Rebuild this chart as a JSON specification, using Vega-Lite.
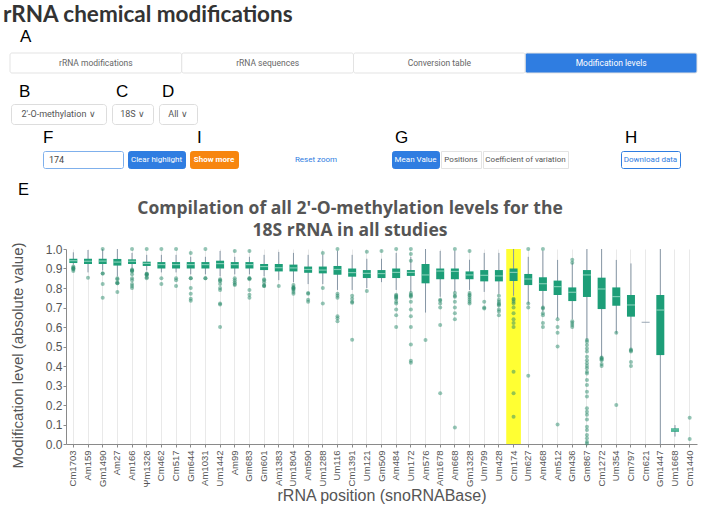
{
  "$schema": "https://vega.github.io/schema/vega-lite/v6.json",
  "background": "white",
  "padding": {"left": 3, "top": 4, "right": 0, "bottom": 0},
  "title": {"text": "rRNA chemical modifications", "anchor": "start", "fontSize": 22.5, "font": "Lato", "fontWeight": "bold", "color": "#333333", "offset": 1},
  "config": {
    "view": {"stroke": null},
    "axis": {"labelFont": "Liberation Sans", "titleFont": "Liberation Sans", "labelColor": "#555555", "titleColor": "#555555", "titleFontWeight": "normal", "domainColor": "#8a8a8a", "tickColor": "#8a8a8a"},
    "axisY": {"offset": -63, "grid": false, "tickCount": 10, "labelFontSize": 12, "titleFontSize": 15, "titlePadding": 20, "titleY": 106, "tickSize": 3, "labelPadding": 1},
    "axisX": {"labelAngle": -90, "labelFontSize": 9.5, "labelPadding": 3, "tickSize": 3, "grid": true, "gridColor": "#e9e9e9", "titleFontSize": 16, "titlePadding": 1}
  },
  "datasets": {
    "tabs": [
      {"tab": "rRNA modifications", "active": false},
      {"tab": "rRNA sequences", "active": false},
      {"tab": "Conversion table", "active": false},
      {"tab": "Modification levels", "active": true}
    ],
    "highlight": [{"cat": "Cm174", "from": 0, "to": 1}],
    "stats": [
      {"cat": "Cm1703", "lo": 0.92, "q1": 0.928, "med": 0.94, "q3": 0.95, "hi": 0.983},
      {"cat": "Am159", "lo": 0.88, "q1": 0.923, "med": 0.937, "q3": 0.95, "hi": 0.995},
      {"cat": "Gm1490", "lo": 0.89, "q1": 0.923, "med": 0.938, "q3": 0.95, "hi": 1.0},
      {"cat": "Am27", "lo": 0.86, "q1": 0.915, "med": 0.933, "q3": 0.949, "hi": 1.0},
      {"cat": "Am166", "lo": 0.9, "q1": 0.923, "med": 0.937, "q3": 0.947, "hi": 0.98},
      {"cat": "Ψm1326", "lo": 0.89, "q1": 0.913, "med": 0.926, "q3": 0.935, "hi": 0.97},
      {"cat": "Cm462", "lo": 0.88, "q1": 0.9, "med": 0.92, "q3": 0.933, "hi": 0.97},
      {"cat": "Cm517", "lo": 0.88, "q1": 0.9, "med": 0.92, "q3": 0.933, "hi": 0.97},
      {"cat": "Gm644", "lo": 0.87, "q1": 0.9, "med": 0.92, "q3": 0.933, "hi": 0.96},
      {"cat": "Am1031", "lo": 0.87, "q1": 0.9, "med": 0.92, "q3": 0.933, "hi": 0.96},
      {"cat": "Um1442", "lo": 0.86, "q1": 0.9, "med": 0.925, "q3": 0.94, "hi": 0.99},
      {"cat": "Am99", "lo": 0.87, "q1": 0.9, "med": 0.92, "q3": 0.933, "hi": 0.96},
      {"cat": "Gm683", "lo": 0.87, "q1": 0.9, "med": 0.92, "q3": 0.933, "hi": 0.96},
      {"cat": "Gm601", "lo": 0.86, "q1": 0.892, "med": 0.91, "q3": 0.923, "hi": 0.97},
      {"cat": "Am1383", "lo": 0.84, "q1": 0.885, "med": 0.904, "q3": 0.923, "hi": 0.985},
      {"cat": "Um1804", "lo": 0.83, "q1": 0.885, "med": 0.903, "q3": 0.92, "hi": 0.98},
      {"cat": "Am590", "lo": 0.82, "q1": 0.878, "med": 0.895, "q3": 0.91, "hi": 0.97},
      {"cat": "Um1288", "lo": 0.82, "q1": 0.875, "med": 0.892, "q3": 0.91, "hi": 0.97},
      {"cat": "Um116", "lo": 0.79, "q1": 0.868, "med": 0.895, "q3": 0.913, "hi": 0.99},
      {"cat": "Cm1391", "lo": 0.79, "q1": 0.858, "med": 0.879, "q3": 0.9, "hi": 0.97},
      {"cat": "Um121", "lo": 0.8, "q1": 0.851, "med": 0.875, "q3": 0.892, "hi": 0.95},
      {"cat": "Gm509", "lo": 0.83, "q1": 0.851, "med": 0.874, "q3": 0.892, "hi": 0.95},
      {"cat": "Am484", "lo": 0.79, "q1": 0.851, "med": 0.88, "q3": 0.9, "hi": 0.98},
      {"cat": "Um172", "lo": 0.78, "q1": 0.862, "med": 0.88, "q3": 0.892, "hi": 0.96},
      {"cat": "Am576", "lo": 0.674, "q1": 0.824, "med": 0.867, "q3": 0.923, "hi": 1.0},
      {"cat": "Am1678", "lo": 0.755, "q1": 0.845, "med": 0.887, "q3": 0.9, "hi": 0.99},
      {"cat": "Am668", "lo": 0.78, "q1": 0.845, "med": 0.885, "q3": 0.9, "hi": 0.99},
      {"cat": "Gm1328", "lo": 0.79, "q1": 0.845, "med": 0.867, "q3": 0.885, "hi": 0.945},
      {"cat": "Um799", "lo": 0.78, "q1": 0.834, "med": 0.865, "q3": 0.892, "hi": 0.98},
      {"cat": "Um428", "lo": 0.77, "q1": 0.834, "med": 0.862, "q3": 0.892, "hi": 0.98},
      {"cat": "Cm174", "lo": 0.76, "q1": 0.836, "med": 0.88, "q3": 0.9, "hi": 1.0},
      {"cat": "Um627", "lo": 0.72, "q1": 0.815, "med": 0.846, "q3": 0.872, "hi": 0.96},
      {"cat": "Am468", "lo": 0.68, "q1": 0.785, "med": 0.822, "q3": 0.855, "hi": 0.99},
      {"cat": "Am512", "lo": 0.645, "q1": 0.764, "med": 0.807, "q3": 0.838, "hi": 0.944},
      {"cat": "Gm436", "lo": 0.64, "q1": 0.733, "med": 0.778, "q3": 0.803, "hi": 0.93},
      {"cat": "Gm867", "lo": 0.533, "q1": 0.754, "med": 0.867, "q3": 0.892, "hi": 1.0},
      {"cat": "Cm1272", "lo": 0.444, "q1": 0.692, "med": 0.795, "q3": 0.853, "hi": 1.0},
      {"cat": "Um354", "lo": 0.567, "q1": 0.709, "med": 0.756, "q3": 0.803, "hi": 0.944},
      {"cat": "Cm797", "lo": 0.482, "q1": 0.653, "med": 0.713, "q3": 0.764, "hi": 0.926},
      {"cat": "Cm621", "lo": 0.624, "q1": 0.624, "med": 0.624, "q3": 0.624, "hi": 0.624},
      {"cat": "Gm1447", "lo": 0.0, "q1": 0.456, "med": 0.687, "q3": 0.764, "hi": 1.0},
      {"cat": "Um1668", "lo": 0.038, "q1": 0.063, "med": 0.072, "q3": 0.08, "hi": 0.097}
    ],
    "points": [
      {"cat": "Cm1703", "v": 0.905}, {"cat": "Cm1703", "v": 0.9}, {"cat": "Cm1703", "v": 0.9}, {"cat": "Cm1703", "v": 0.895}, {"cat": "Cm1703", "v": 0.887}, {"cat": "Cm1703", "v": 0.91},
      {"cat": "Am159", "v": 0.853},
      {"cat": "Gm1490", "v": 1.0}, {"cat": "Gm1490", "v": 0.875}, {"cat": "Gm1490", "v": 0.875}, {"cat": "Gm1490", "v": 0.82}, {"cat": "Gm1490", "v": 0.75},
      {"cat": "Am27", "v": 0.85}, {"cat": "Am27", "v": 0.845}, {"cat": "Am27", "v": 0.83}, {"cat": "Am27", "v": 0.825}, {"cat": "Am27", "v": 0.825}, {"cat": "Am27", "v": 0.78},
      {"cat": "Am166", "v": 1.0}, {"cat": "Am166", "v": 0.895}, {"cat": "Am166", "v": 0.89}, {"cat": "Am166", "v": 0.89}, {"cat": "Am166", "v": 0.885}, {"cat": "Am166", "v": 0.87}, {"cat": "Am166", "v": 0.85}, {"cat": "Am166", "v": 0.84}, {"cat": "Am166", "v": 0.82}, {"cat": "Am166", "v": 0.81}, {"cat": "Am166", "v": 0.8},
      {"cat": "Ψm1326", "v": 1.0}, {"cat": "Ψm1326", "v": 0.875}, {"cat": "Ψm1326", "v": 0.87}, {"cat": "Ψm1326", "v": 0.87}, {"cat": "Ψm1326", "v": 0.865}, {"cat": "Ψm1326", "v": 0.855}, {"cat": "Ψm1326", "v": 0.85},
      {"cat": "Cm462", "v": 1.0}, {"cat": "Cm462", "v": 0.85}, {"cat": "Cm462", "v": 0.82},
      {"cat": "Cm517", "v": 1.0}, {"cat": "Cm517", "v": 0.85}, {"cat": "Cm517", "v": 0.84}, {"cat": "Cm517", "v": 0.81},
      {"cat": "Gm644", "v": 0.98}, {"cat": "Gm644", "v": 0.85}, {"cat": "Gm644", "v": 0.85}, {"cat": "Gm644", "v": 0.8}, {"cat": "Gm644", "v": 0.77}, {"cat": "Gm644", "v": 0.745}, {"cat": "Gm644", "v": 0.735},
      {"cat": "Am1031", "v": 1.0}, {"cat": "Am1031", "v": 0.85}, {"cat": "Am1031", "v": 0.85},
      {"cat": "Um1442", "v": 0.845}, {"cat": "Um1442", "v": 0.84}, {"cat": "Um1442", "v": 0.835}, {"cat": "Um1442", "v": 0.82}, {"cat": "Um1442", "v": 0.8}, {"cat": "Um1442", "v": 0.79}, {"cat": "Um1442", "v": 0.72}, {"cat": "Um1442", "v": 0.715}, {"cat": "Um1442", "v": 0.6},
      {"cat": "Am99", "v": 0.99}, {"cat": "Am99", "v": 0.85}, {"cat": "Am99", "v": 0.84}, {"cat": "Am99", "v": 0.83}, {"cat": "Am99", "v": 0.82}, {"cat": "Am99", "v": 0.815},
      {"cat": "Gm683", "v": 0.99}, {"cat": "Gm683", "v": 0.85}, {"cat": "Gm683", "v": 0.85}, {"cat": "Gm683", "v": 0.845}, {"cat": "Gm683", "v": 0.79}, {"cat": "Gm683", "v": 0.765}, {"cat": "Gm683", "v": 0.75},
      {"cat": "Gm601", "v": 0.845}, {"cat": "Gm601", "v": 0.84}, {"cat": "Gm601", "v": 0.83}, {"cat": "Gm601", "v": 0.815}, {"cat": "Gm601", "v": 0.81}, {"cat": "Gm601", "v": 0.81},
      {"cat": "Am1383", "v": 0.81},
      {"cat": "Um1804", "v": 0.815}, {"cat": "Um1804", "v": 0.805}, {"cat": "Um1804", "v": 0.8}, {"cat": "Um1804", "v": 0.8}, {"cat": "Um1804", "v": 0.795}, {"cat": "Um1804", "v": 0.79}, {"cat": "Um1804", "v": 0.78}, {"cat": "Um1804", "v": 0.77},
      {"cat": "Am590", "v": 0.775}, {"cat": "Am590", "v": 0.77}, {"cat": "Am590", "v": 0.74}, {"cat": "Am590", "v": 0.73},
      {"cat": "Um1288", "v": 0.98}, {"cat": "Um1288", "v": 0.8}, {"cat": "Um1288", "v": 0.72},
      {"cat": "Um116", "v": 1.0}, {"cat": "Um116", "v": 0.77}, {"cat": "Um116", "v": 0.76}, {"cat": "Um116", "v": 0.75}, {"cat": "Um116", "v": 0.655}, {"cat": "Um116", "v": 0.645}, {"cat": "Um116", "v": 0.63},
      {"cat": "Cm1391", "v": 0.76}, {"cat": "Cm1391", "v": 0.745}, {"cat": "Cm1391", "v": 0.73}, {"cat": "Cm1391", "v": 0.725}, {"cat": "Cm1391", "v": 0.535},
      {"cat": "Um121", "v": 0.986}, {"cat": "Um121", "v": 0.785},
      {"cat": "Gm509", "v": 0.99},
      {"cat": "Am484", "v": 1.0}, {"cat": "Am484", "v": 0.765}, {"cat": "Am484", "v": 0.76}, {"cat": "Am484", "v": 0.755}, {"cat": "Am484", "v": 0.75}, {"cat": "Am484", "v": 0.745}, {"cat": "Am484", "v": 0.73}, {"cat": "Am484", "v": 0.72}, {"cat": "Am484", "v": 0.69}, {"cat": "Am484", "v": 0.66}, {"cat": "Am484", "v": 0.6},
      {"cat": "Um172", "v": 1.0}, {"cat": "Um172", "v": 0.975}, {"cat": "Um172", "v": 0.94}, {"cat": "Um172", "v": 0.775}, {"cat": "Um172", "v": 0.765}, {"cat": "Um172", "v": 0.76}, {"cat": "Um172", "v": 0.755}, {"cat": "Um172", "v": 0.73}, {"cat": "Um172", "v": 0.69}, {"cat": "Um172", "v": 0.655}, {"cat": "Um172", "v": 0.6}, {"cat": "Um172", "v": 0.51}, {"cat": "Um172", "v": 0.427}, {"cat": "Um172", "v": 0.417},
      {"cat": "Am576", "v": 0.533},
      {"cat": "Am1678", "v": 0.74}, {"cat": "Am1678", "v": 0.735}, {"cat": "Am1678", "v": 0.72}, {"cat": "Am1678", "v": 0.7}, {"cat": "Am1678", "v": 0.61}, {"cat": "Am1678", "v": 0.26},
      {"cat": "Am668", "v": 1.0}, {"cat": "Am668", "v": 0.775}, {"cat": "Am668", "v": 0.76}, {"cat": "Am668", "v": 0.755}, {"cat": "Am668", "v": 0.73}, {"cat": "Am668", "v": 0.7}, {"cat": "Am668", "v": 0.67}, {"cat": "Am668", "v": 0.64}, {"cat": "Am668", "v": 0.085},
      {"cat": "Gm1328", "v": 0.99}, {"cat": "Gm1328", "v": 0.775}, {"cat": "Gm1328", "v": 0.765}, {"cat": "Gm1328", "v": 0.76}, {"cat": "Gm1328", "v": 0.75}, {"cat": "Gm1328", "v": 0.74}, {"cat": "Gm1328", "v": 0.73}, {"cat": "Gm1328", "v": 0.72},
      {"cat": "Um799", "v": 0.73}, {"cat": "Um799", "v": 0.7}, {"cat": "Um799", "v": 0.695},
      {"cat": "Um428", "v": 0.76}, {"cat": "Um428", "v": 0.74}, {"cat": "Um428", "v": 0.73}, {"cat": "Um428", "v": 0.72}, {"cat": "Um428", "v": 0.715}, {"cat": "Um428", "v": 0.71}, {"cat": "Um428", "v": 0.69}, {"cat": "Um428", "v": 0.68}, {"cat": "Um428", "v": 0.66},
      {"cat": "Cm174", "v": 0.745}, {"cat": "Cm174", "v": 0.74}, {"cat": "Cm174", "v": 0.73}, {"cat": "Cm174", "v": 0.72}, {"cat": "Cm174", "v": 0.7}, {"cat": "Cm174", "v": 0.67}, {"cat": "Cm174", "v": 0.64}, {"cat": "Cm174", "v": 0.62}, {"cat": "Cm174", "v": 0.6}, {"cat": "Cm174", "v": 0.37}, {"cat": "Cm174", "v": 0.26}, {"cat": "Cm174", "v": 0.14},
      {"cat": "Um627", "v": 1.0}, {"cat": "Um627", "v": 0.72}, {"cat": "Um627", "v": 0.7}, {"cat": "Um627", "v": 0.35},
      {"cat": "Am468", "v": 1.0}, {"cat": "Am468", "v": 0.7}, {"cat": "Am468", "v": 0.695}, {"cat": "Am468", "v": 0.67}, {"cat": "Am468", "v": 0.66}, {"cat": "Am468", "v": 0.62}, {"cat": "Am468", "v": 0.6},
      {"cat": "Am512", "v": 0.64}, {"cat": "Am512", "v": 0.6}, {"cat": "Am512", "v": 0.57}, {"cat": "Am512", "v": 0.5}, {"cat": "Am512", "v": 0.1},
      {"cat": "Gm436", "v": 0.945}, {"cat": "Gm436", "v": 0.93}, {"cat": "Gm436", "v": 0.63}, {"cat": "Gm436", "v": 0.62}, {"cat": "Gm436", "v": 0.61}, {"cat": "Gm436", "v": 0.6},
      {"cat": "Gm867", "v": 0.533}, {"cat": "Gm867", "v": 0.525}, {"cat": "Gm867", "v": 0.508}, {"cat": "Gm867", "v": 0.49}, {"cat": "Gm867", "v": 0.474}, {"cat": "Gm867", "v": 0.448}, {"cat": "Gm867", "v": 0.43}, {"cat": "Gm867", "v": 0.414}, {"cat": "Gm867", "v": 0.4}, {"cat": "Gm867", "v": 0.388}, {"cat": "Gm867", "v": 0.371}, {"cat": "Gm867", "v": 0.362}, {"cat": "Gm867", "v": 0.328}, {"cat": "Gm867", "v": 0.303}, {"cat": "Gm867", "v": 0.268}, {"cat": "Gm867", "v": 0.243}, {"cat": "Gm867", "v": 0.183}, {"cat": "Gm867", "v": 0.166}, {"cat": "Gm867", "v": 0.15}, {"cat": "Gm867", "v": 0.126}, {"cat": "Gm867", "v": 0.089}, {"cat": "Gm867", "v": 0.072}, {"cat": "Gm867", "v": 0.046}, {"cat": "Gm867", "v": 0.029}, {"cat": "Gm867", "v": 0.012}, {"cat": "Gm867", "v": 0.003},
      {"cat": "Cm1272", "v": 0.444}, {"cat": "Cm1272", "v": 0.44}, {"cat": "Cm1272", "v": 0.435}, {"cat": "Cm1272", "v": 0.43}, {"cat": "Cm1272", "v": 0.41}, {"cat": "Cm1272", "v": 0.4},
      {"cat": "Um354", "v": 0.57}, {"cat": "Um354", "v": 0.2},
      {"cat": "Cm797", "v": 0.485}, {"cat": "Cm797", "v": 0.48}, {"cat": "Cm797", "v": 0.475}, {"cat": "Cm797", "v": 0.42}, {"cat": "Cm797", "v": 0.4},
      {"cat": "Cm1440", "v": 0.135}, {"cat": "Cm1440", "v": 0.026}
    ]
  },
  "spacing": 0,
  "vconcat": [
    {
      "title": {"text": "A", "anchor": "start", "dx": 17, "fontSize": 17, "font": "Liberation Sans", "fontWeight": "normal", "color": "#000000", "offset": 7},
      "width": 694,
      "height": 20,
      "data": {"name": "tabs"},
      "encoding": {"x": {"field": "tab", "type": "nominal", "sort": null, "axis": null, "scale": {"range": [7, 694], "paddingInner": 0, "paddingOuter": 0}}},
      "layer": [
        {"mark": {"type": "bar", "stroke": "#e3e3e3", "strokeWidth": 1, "cornerRadius": 2},
         "encoding": {"fill": {"condition": {"test": "datum.active", "value": "#2f7de1"}, "value": "#ffffff"}}},
        {"mark": {"type": "text", "font": "Roboto", "fontSize": 8.5},
         "encoding": {"text": {"field": "tab"}, "color": {"condition": {"test": "datum.active", "value": "#ffffff"}, "value": "#666666"}}}
      ]
    },
    {"width": 10, "height": 8, "data": {"values": []}, "mark": "text", "encoding": {}},
    {
      "spacing": 4,
      "hconcat": [
        {"width": 3, "height": 20, "data": {"values": []}, "mark": "text", "encoding": {}},
        {"title": {"text": "B", "anchor": "start", "dx": 8, "fontSize": 17, "font": "Liberation Sans", "fontWeight": "normal", "color": "#000000", "offset": 3},
         "width": 95, "height": 20, "view": {"stroke": "#dddddd", "fill": "#ffffff", "cornerRadius": 3},
         "data": {"values": [{"label": "2'-O-methylation  ∨"}]},
         "mark": {"type": "text", "font": "Roboto", "fontSize": 9, "color": "#555555"},
         "encoding": {"text": {"field": "label"}}},
        {"title": {"text": "C", "anchor": "start", "dx": 4, "fontSize": 17, "font": "Liberation Sans", "fontWeight": "normal", "color": "#000000", "offset": 3},
         "width": 41, "height": 20, "view": {"stroke": "#dddddd", "fill": "#ffffff", "cornerRadius": 3},
         "data": {"values": [{"label": "18S  ∨"}]},
         "mark": {"type": "text", "font": "Roboto", "fontSize": 9, "color": "#555555"},
         "encoding": {"text": {"field": "label"}}},
        {"title": {"text": "D", "anchor": "start", "dx": 3, "fontSize": 17, "font": "Liberation Sans", "fontWeight": "normal", "color": "#000000", "offset": 3},
         "width": 38, "height": 20, "view": {"stroke": "#dddddd", "fill": "#ffffff", "cornerRadius": 3},
         "data": {"values": [{"label": "All  ∨"}]},
         "mark": {"type": "text", "font": "Roboto", "fontSize": 9, "color": "#555555"},
         "encoding": {"text": {"field": "label"}}}
      ]
    },
    {"width": 10, "height": 3, "data": {"values": []}, "mark": "text", "encoding": {}},
    {
      "spacing": 0,
      "hconcat": [
        {"width": 39, "height": 17, "data": {"values": []}, "mark": "text", "encoding": {}},
        {"title": {"text": "F", "anchor": "start", "dx": 0, "fontSize": 17, "font": "Liberation Sans", "fontWeight": "normal", "color": "#000000", "offset": 4},
         "width": 80, "height": 17, "view": {"stroke": "#7fb0ec", "fill": "#ffffff", "cornerRadius": 2},
         "data": {"values": [{"label": "174"}]},
         "mark": {"type": "text", "font": "Roboto", "fontSize": 9, "color": "#444444", "align": "left", "dx": -34},
         "encoding": {"text": {"field": "label"}}},
        {"width": 3, "height": 17, "data": {"values": []}, "mark": "text", "encoding": {}},
        {"width": 57, "height": 17, "view": {"stroke": "#2f7de1", "fill": "#2f7de1", "cornerRadius": 2},
         "data": {"values": [{"label": "Clear highlight"}]},
         "mark": {"type": "text", "font": "Roboto", "fontSize": 8, "color": "#ffffff"},
         "encoding": {"text": {"field": "label"}}},
        {"width": 3, "height": 17, "data": {"values": []}, "mark": "text", "encoding": {}},
        {"title": {"text": "I", "anchor": "start", "dx": 7, "fontSize": 17, "font": "Liberation Sans", "fontWeight": "normal", "color": "#000000", "offset": 4},
         "width": 48, "height": 17, "view": {"stroke": "#f7860f", "fill": "#f7860f", "cornerRadius": 2},
         "data": {"values": [{"label": "Show more"}]},
         "mark": {"type": "text", "font": "Roboto", "fontSize": 8, "fontWeight": "bold", "color": "#ffffff"},
         "encoding": {"text": {"field": "label"}}},
        {"width": 47, "height": 17, "data": {"values": []}, "mark": "text", "encoding": {}},
        {"width": 60, "height": 17,
         "data": {"values": [{"label": "Reset zoom"}]},
         "mark": {"type": "text", "font": "Roboto", "fontSize": 8, "color": "#2f7de1"},
         "encoding": {"text": {"field": "label"}}},
        {"width": 45, "height": 17, "data": {"values": []}, "mark": "text", "encoding": {}},
        {"title": {"text": "G", "anchor": "start", "dx": 3, "fontSize": 17, "font": "Liberation Sans", "fontWeight": "normal", "color": "#000000", "offset": 4},
         "width": 47, "height": 17, "view": {"stroke": "#2f7de1", "fill": "#2f7de1", "cornerRadius": 2},
         "data": {"values": [{"label": "Mean Value"}]},
         "mark": {"type": "text", "font": "Roboto", "fontSize": 8, "color": "#ffffff"},
         "encoding": {"text": {"field": "label"}}},
        {"width": 40, "height": 17, "view": {"stroke": "#e3e3e3", "fill": "#ffffff"},
         "data": {"values": [{"label": "Positions"}]},
         "mark": {"type": "text", "font": "Roboto", "fontSize": 8, "color": "#555555"},
         "encoding": {"text": {"field": "label"}}},
        {"width": 85, "height": 17, "view": {"stroke": "#e3e3e3", "fill": "#ffffff"},
         "data": {"values": [{"label": "Coefficient of variation"}]},
         "mark": {"type": "text", "font": "Roboto", "fontSize": 8, "color": "#555555"},
         "encoding": {"text": {"field": "label"}}},
        {"width": 51, "height": 17, "data": {"values": []}, "mark": "text", "encoding": {}},
        {"title": {"text": "H", "anchor": "start", "dx": 4, "fontSize": 17, "font": "Liberation Sans", "fontWeight": "normal", "color": "#000000", "offset": 4},
         "width": 59, "height": 17, "view": {"stroke": "#2f7de1", "fill": "#ffffff", "cornerRadius": 2},
         "data": {"values": [{"label": "Download data"}]},
         "mark": {"type": "text", "font": "Roboto", "fontSize": 8, "color": "#2f7de1"},
         "encoding": {"text": {"field": "label"}}}
      ]
    },
    {"width": 10, "height": 12, "data": {"values": []}, "mark": "text", "encoding": {}},
    {"title": {"text": "E", "anchor": "start", "dx": 15, "fontSize": 16.5, "font": "Liberation Sans", "fontWeight": "normal", "color": "#000000", "offset": 0},
     "width": 10, "height": 1, "data": {"values": []}, "mark": "text", "encoding": {}},
    {
      "title": {"text": ["Compilation of all 2'-O-methylation levels for the", "18S rRNA in all studies"], "anchor": "middle", "fontSize": 17.5, "font": "Open Sans", "fontWeight": "bold", "color": "#555555", "lineHeight": 22, "offset": 3},
      "width": 694,
      "height": 195,
      "encoding": {
        "x": {"field": "cat", "type": "nominal", "title": "rRNA position (snoRNABase)",
              "scale": {"domain": ["Cm1703", "Am159", "Gm1490", "Am27", "Am166", "Ψm1326", "Cm462", "Cm517", "Gm644", "Am1031", "Um1442", "Am99", "Gm683", "Gm601", "Am1383", "Um1804", "Am590", "Um1288", "Um116", "Cm1391", "Um121", "Gm509", "Am484", "Um172", "Am576", "Am1678", "Am668", "Gm1328", "Um799", "Um428", "Cm174", "Um627", "Am468", "Am512", "Gm436", "Gm867", "Cm1272", "Um354", "Cm797", "Cm621", "Gm1447", "Um1668", "Cm1440"], "range": [63, 694], "paddingInner": 0, "paddingOuter": 0},
              "axis": {"bandPosition": 0.5}}
      },
      "layer": [
        {"data": {"name": "highlight"},
         "mark": {"type": "bar", "color": "#ffff33"},
         "encoding": {"y": {"field": "from", "type": "quantitative", "title": "Modification level (absolute value)", "scale": {"domain": [0, 1]}}, "y2": {"field": "to"}}},
        {"data": {"name": "stats"},
         "mark": {"type": "rule", "color": "#8797a6", "strokeWidth": 1},
         "encoding": {"y": {"field": "lo", "type": "quantitative", "title": "Modification level (absolute value)"}, "y2": {"field": "hi"}}},
        {"data": {"name": "stats"},
         "mark": {"type": "bar", "color": "#1d9e78", "width": 8},
         "encoding": {"y": {"field": "q1", "type": "quantitative", "title": "Modification level (absolute value)"}, "y2": {"field": "q3"}}},
        {"data": {"name": "stats"},
         "mark": {"type": "tick", "size": 8, "thickness": 1.2},
         "encoding": {"y": {"field": "med", "type": "quantitative", "title": "Modification level (absolute value)"},
                      "color": {"condition": {"test": "datum.q1 == datum.q3", "value": "#8797a6"}, "value": "#a8e2cf"}}},
        {"data": {"name": "points"},
         "mark": {"type": "circle", "size": 16, "color": "#2a8b6b", "opacity": 0.5},
         "encoding": {"y": {"field": "v", "type": "quantitative", "title": "Modification level (absolute value)"}}}
      ]
    }
  ]
}
